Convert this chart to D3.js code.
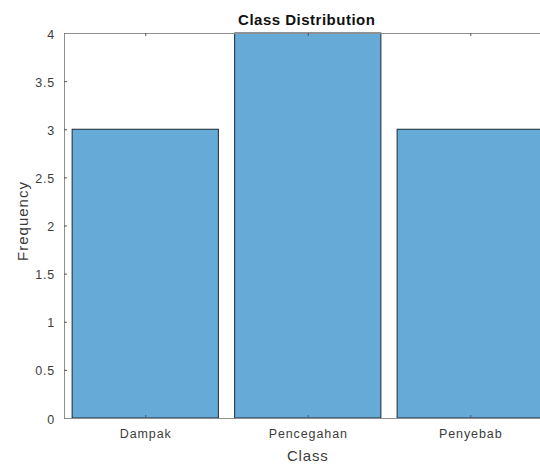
<!DOCTYPE html>
<html><head><meta charset="utf-8">
<script src="https://cdn.jsdelivr.net/npm/d3@7"></script>
<style>body{margin:0;background:#fff;} svg{display:block;} text{font-family:"Liberation Sans",Arial,sans-serif;}</style>
</head><body>
<svg id="c" width="540" height="464"></svg>
<script>
const categories = ["Dampak", "Pencegahan", "Penyebab"];
const frequencies = [3, 4, 3];
const yTicks = [0, 0.5, 1, 1.5, 2, 2.5, 3, 3.5, 4];
const titleText = "Class Distribution";
const xLabelText = "Class";
const yLabelText = "Frequency";

const svg = d3.select("#c");
const L = 64, R = 551.5, T = 33, B = 418;
const x = d3.scaleLinear().domain([0.5, categories.length + 0.5]).range([L, R]);
const y = d3.scaleLinear().domain([0, 4]).range([B, T]);
const bw = 0.9;
const axisColor = "#8f8f8f";
const textColor = "#3c3c3c";
const FONT = "Liberation Sans, Arial, sans-serif";

// bars
svg.selectAll("rect.bar").data(frequencies).enter().append("rect")
  .attr("class", "bar")
  .attr("x", (d, i) => x(i + 1 - bw / 2))
  .attr("width", (d, i) => x(i + 1 + bw / 2) - x(i + 1 - bw / 2))
  .attr("y", d => y(d))
  .attr("height", d => y(0) - y(d))
  .attr("fill", "#66aad7")
  .attr("stroke", "#1a2a36")
  .attr("stroke-width", 1);

// y axis (left)
const yAxis = d3.axisLeft(y).tickValues(yTicks).tickSizeInner(-3).tickSizeOuter(0)
  .tickPadding(9).tickFormat(d3.format("~g"));
const gy = svg.append("g").attr("transform", `translate(${L},0)`).call(yAxis);
gy.select(".domain").attr("stroke", axisColor);
gy.selectAll(".tick line").attr("stroke", "#555");
gy.selectAll(".tick text").attr("fill", textColor).attr("font-size", 12.5)
  .attr("letter-spacing", 0.8).attr("font-family", FONT).attr("dy", "0.4em");

// x axis (bottom)
const xAxis = d3.axisBottom(x).tickValues(categories.map((c, i) => i + 1))
  .tickFormat((d, i) => categories[i]).tickSizeInner(-3).tickSizeOuter(0).tickPadding(12);
const gx = svg.append("g").attr("transform", `translate(0,${B})`).call(xAxis);
gx.select(".domain").attr("stroke", axisColor);
gx.selectAll(".tick line").attr("stroke", "#555");
gx.selectAll(".tick text").attr("fill", textColor).attr("font-size", 12.5)
  .attr("letter-spacing", 0.9).attr("font-family", FONT).attr("dy", "0.6em");

// top axis (box)
const xTop = d3.axisTop(x).tickValues(categories.map((c, i) => i + 1))
  .tickFormat("").tickSizeInner(-3).tickSizeOuter(0);
const gt = svg.append("g").attr("transform", `translate(0,${T})`).call(xTop);
gt.select(".domain").attr("stroke", axisColor);
gt.selectAll(".tick line").attr("stroke", "#555");

// title and labels
svg.append("text").attr("x", (L + R) / 2 - 1).attr("y", 25).attr("text-anchor", "middle")
  .attr("font-size", 15).attr("font-weight", "bold").attr("letter-spacing", 0.5)
  .attr("fill", "#111").text(titleText);
svg.append("text").attr("x", (L + R) / 2).attr("y", 461).attr("text-anchor", "middle")
  .attr("font-size", 15).attr("letter-spacing", 0.8).attr("fill", textColor).text(xLabelText);
svg.append("text").attr("transform", `translate(28,221) rotate(-90)`)
  .attr("text-anchor", "middle").attr("font-size", 15).attr("letter-spacing", 1)
  .attr("fill", textColor).text(yLabelText);
</script>
</body></html>
